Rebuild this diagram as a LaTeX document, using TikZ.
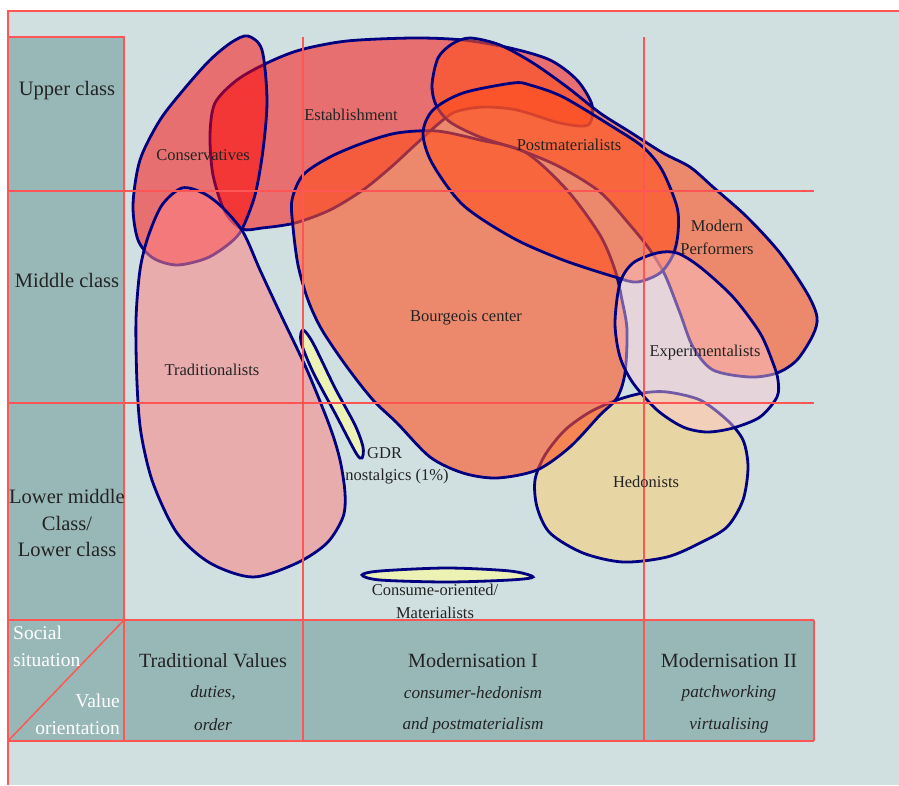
\documentclass[tikz,border=0pt]{standalone}
\usepackage{fontspec}
\setmainfont{Liberation Serif}
\usetikzlibrary{positioning}
\definecolor{bgblue}{RGB}{208,224,225}
\definecolor{cellteal}{RGB}{152,184,183}
\definecolor{gridred}{RGB}{255,85,85}
\definecolor{navyline}{RGB}{0,0,128}
\definecolor{inkgray}{RGB}{35,35,35}
\definecolor{redfill}{RGB}{255,0,0}
\definecolor{tradfill}{RGB}{255,130,132}
\definecolor{orangefill}{RGB}{255,80,30}
\definecolor{expfill}{RGB}{255,200,210}
\definecolor{hedfill}{RGB}{255,204,102}
\definecolor{palefill}{RGB}{255,255,150}
\tikzset{blob/.style={draw=navyline,line width=2.8pt,fill opacity=#1},blob/.default=0.5,
  gridline/.style={gridred,line width=1.5pt},
  lbl/.style={text=inkgray,inner sep=0pt,align=center,font=\fontsize{16.5}{23}\selectfont},
  rowlbl/.style={text=inkgray,inner sep=0pt,align=center,font=\fontsize{20.5}{26.5}\selectfont},
  hdr/.style={text=inkgray,inner sep=0pt,font=\fontsize{20.2}{24}\selectfont},
  sub/.style={text=inkgray,inner sep=0pt,font=\fontsize{17.2}{22}\selectfont\itshape},
  corner/.style={text=white,inner sep=0pt,font=\fontsize{19.5}{27}\selectfont}}

\begin{document}
\begin{tikzpicture}[x=1pt,y=-1pt]
    \useasboundingbox (0,0) rectangle (899,785);
    \fill[white] (0,0) rectangle (899,785);
    \fill[bgblue] (8,11) rectangle (899,785);
    \fill[cellteal] (8,37) rectangle (124,620);
    \fill[cellteal] (8,620) rectangle (814,741);

    % milieus, back to front
    \filldraw[blob, fill=hedfill] plot[smooth cycle] coordinates {(617,400) (643,393) (667,392) (700,400) (727,420) (743,440) (748,467) (743,500) (727,527) (700,543) (667,557) (623,562) (583,553) (550,533) (537,507) (535,480) (545,455) (565,430) (590,412)};
    \filldraw[blob, fill=redfill] plot[smooth cycle] coordinates {(242,229) (225,212) (213,175) (210,135) (215,103) (237,80) (267,63) (300,50) (347,41) (413,38) (463,40) (510,48) (550,60) (577,80) (592,105) (588,125) (560,123) (517,110) (483,107) (455,112) (437,125) (415,145) (390,168) (363,190) (330,210) (295,223) (262,228)};
    \filldraw[blob, fill=redfill] plot[smooth cycle] coordinates {(248,36) (262,50) (267,100) (263,150) (255,195) (242,229) (230,243) (207,258) (177,265) (153,258) (138,240) (133,205) (140,160) (160,120) (185,88) (210,60) (232,42)};
    \filldraw[blob=0.55, fill=tradfill] plot[smooth cycle] coordinates {(182,188) (203,193) (222,207) (243,232) (260,270) (280,313) (307,370) (330,427) (340,460) (345,493) (343,517) (327,543) (297,563) (253,577) (210,563) (177,533) (153,483) (141,433) (137,383) (136,320) (140,270) (148,237) (162,205)};
    \filldraw[blob=0.6, fill=orangefill] plot[smooth cycle] coordinates {(293,227) (292,200) (303,175) (330,157) (363,143) (397,133) (437,131) (480,140) (525,152) (567,190) (600,235) (615,270) (622,300) (627,330) (625,373) (617,398) (600,415) (570,447) (537,470) (497,478) (463,473) (430,457) (397,423) (373,400) (347,367) (322,330) (308,300) (298,265)};
    \filldraw[blob=0.6, fill=orangefill] plot[smooth cycle] coordinates {(432,85) (438,58) (452,44) (470,38) (500,45) (533,63) (567,87) (600,113) (630,132) (663,153) (690,167) (713,187) (747,217) (780,253) (807,293) (817,317) (813,335) (797,360) (777,373) (750,377) (713,370) (693,347) (680,313) (665,275) (650,250) (630,225) (600,192) (560,167) (520,150) (480,137) (450,122) (436,105)};
    \filldraw[blob=0.6, fill=orangefill] plot[smooth cycle] coordinates {(423,133) (433,110) (463,93) (513,83) (530,85) (563,97) (613,127) (643,147) (662,170) (677,207) (678,233) (673,255) (660,273) (637,282) (615,277) (563,260) (513,238) (463,205) (432,163)};
    \filldraw[blob=0.45, fill=expfill] plot[smooth cycle] coordinates {(657,253) (677,253) (700,267) (733,297) (760,333) (773,363) (778,380) (777,397) (760,417) (733,428) (707,432) (683,427) (657,410) (633,383) (620,357) (615,323) (620,283) (633,263)};
    \filldraw[blob=0.6, fill=palefill] plot[smooth cycle] coordinates {(303,330) (313,343) (335,388) (355,425) (363,447) (362,458) (356,453) (336,415) (313,372) (301,342)};
    \filldraw[blob=0.6, fill=palefill] plot[smooth cycle] coordinates {(362,575) (380,571) (447,568) (510,571) (533,577) (510,580) (447,582) (380,580)};

    % grid
    \draw[gridline] (899,11) -- (8,11) -- (8,785);
    \draw[gridline] (8,37) -- (124,37) -- (124,741);
    \foreach \y in {191,403,620,741} \draw[gridline] (8,\y) -- (814,\y);
    \foreach \x in {303,644} \draw[gridline] (\x,37) -- (\x,741);
    \draw[gridline] (814,620) -- (814,741);
    \draw[gridline] (8,741) -- (124,620);

    \node[rowlbl] (upper) at (67,91) {Upper class};
    \node[rowlbl] (middle) at (67,280) {Middle class};
    \node[rowlbl] (lower) at (67,523) {Lower middle\\Class/\\Lower class};
    \node[corner, align=left, anchor=west] (social) at (13,646) {Social\\situation};
    \node[corner, align=right, anchor=east] (value) at (120,714) {Value\\orientation};

    \node[hdr] (trad) at (213,661) {Traditional Values};
    \node[sub] (tradA) at (213,693) {duties,};
    \node[sub] (tradB) at (213,725) {order};
    \node[hdr] (modI) at (473,661) {Modernisation I};
    \node[sub] (modIA) at (473,693) {consumer-hedonism};
    \node[sub] (modIB) at (473,725) {and postmaterialism};
    \node[hdr] (modII) at (729,661) {Modernisation II};
    \node[sub] (modIIA) at (729,693) {patchworking};
    \node[sub] (modIIB) at (729,725) {virtualising};

    \node[lbl] (cons) at (203,155) {Conservatives};
    \node[lbl] (estab) at (351,115) {Establishment};
    \node[lbl] (postmat) at (569,145) {Postmaterialists};
    \node[lbl] (perf) at (717,237) {Modern\\Performers};
    \node[lbl] (bourg) at (466,318) {Bourgeois center};
    \node[lbl] (exper) at (705,353) {Experimentalists};
    \node[lbl] (tradl) at (212,370) {Traditionalists};
    \node[lbl, anchor=west] (gdr) at (367,453) {GDR};
    \node[lbl] (nost) at (397,477) {nostalgics (1\%)};
    \node[lbl] (consume) at (435,601) {Consume-oriented/\\Materialists};
    \node[lbl] (hedon) at (646,482) {Hedonists};
\end{tikzpicture}
\end{document}
